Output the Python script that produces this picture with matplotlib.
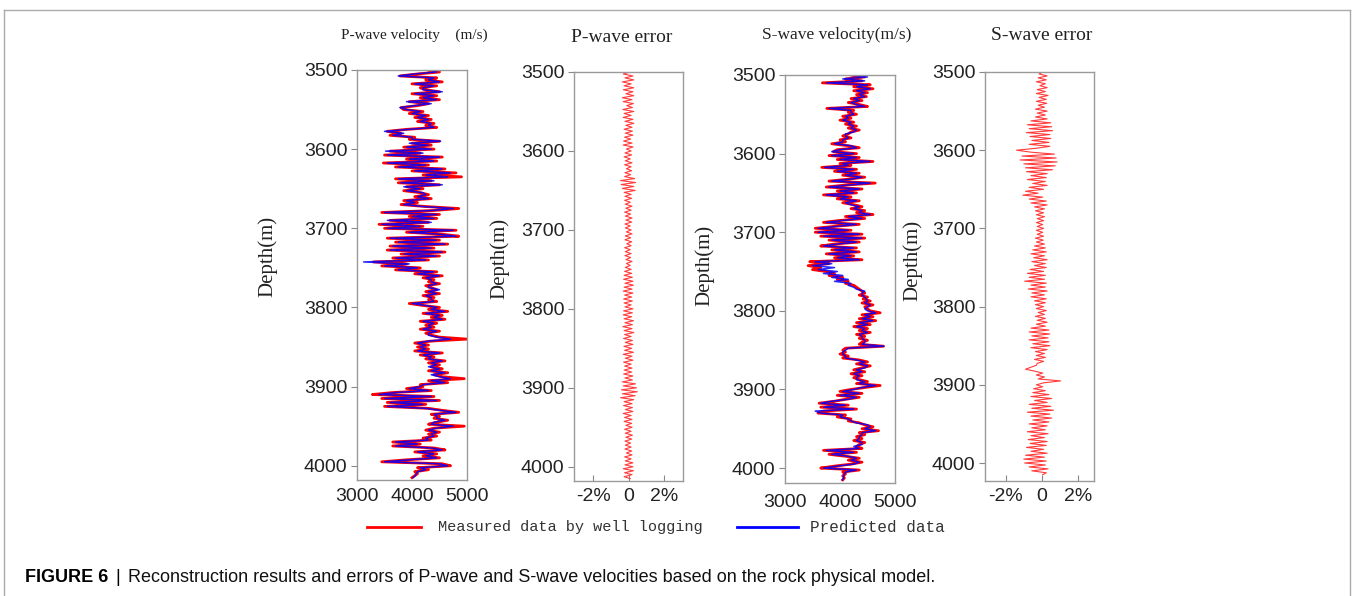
import numpy as np
import matplotlib
matplotlib.use("Agg")
import matplotlib.pyplot as plt
from matplotlib.lines import Line2D

# depth sampling of the logs (m), one value every 2.5 m
depth = np.arange(3500, 4015.1, 2.5)

# P-wave velocity (m/s), measured by well logging
vp_measured = [
    4300, 4500, 4100, 3780, 4450, 4250, 4550, 4000, 4450, 4150,
    4250, 4500, 4000, 4450, 4150, 4500, 3950, 4300, 4100, 3800,
    3850, 4200, 3950, 4300, 4050, 4350, 4100, 4400, 4250, 4450,
    3900, 3550, 3800, 3600, 4050, 3950, 4500, 4000, 4350, 3850,
    4400, 3600, 4150, 3500, 4550, 3900, 4450, 3480, 4300, 3700,
    4600, 4000, 4800, 4200, 4900, 3700, 4350, 3750, 4500, 3900,
    4200, 3850, 4150, 4300, 4050, 4350, 3850, 4100, 3800, 4250,
    4850, 4400, 3450, 4500, 3950, 4450, 3600, 4300, 3400, 4200,
    3500, 4800, 3900, 4550, 4850, 3550, 4500, 3700, 4650, 3600,
    4400, 3550, 4600, 3800, 4500, 3650, 4300, 3300, 3900, 3450,
    4150, 3700, 4450, 4050, 4550, 4200, 4400, 4300, 4500, 4250,
    4350, 4450, 4250, 4500, 4200, 4400, 4300, 4450, 3950, 4200,
    4500, 4300, 4650, 4200, 4550, 4350, 4600, 4150, 4450, 4250,
    4400, 4150, 4500, 4250, 4350, 4500, 5000, 4350, 4050, 4300,
    4100, 4300, 4050, 4550, 4150, 4400, 4250, 4600, 4300, 4500,
    4350, 4550, 4300, 4650, 4400, 4550, 4950, 4300, 4650, 4150,
    4200, 3900, 4350, 3650, 3280, 4400, 3450, 4500, 3550, 4250,
    3500, 4300, 4550, 4850, 4350, 4500, 4400, 4650, 4450, 4300,
    4950, 4400, 4250, 4500, 4300, 4450, 4200, 4350, 3650, 4150,
    3650, 4400, 4600, 4050, 4450, 4200, 4500, 3900, 3450, 4550,
    4700, 4100, 4300, 4050, 4100, 4050, 4000,
]

# P-wave velocity (m/s), predicted
vp_predicted = [
    4350, 4450, 4050, 3750, 4400, 4300, 4500, 4050, 4400, 4200,
    4200, 4550, 4050, 4400, 4200, 4450, 3900, 4350, 4050, 3780,
    3900, 4150, 4000, 4250, 4100, 4300, 4150, 4350, 4300, 4400,
    3950, 3500, 3850, 3650, 4000, 4000, 4520, 3950, 4300, 3900,
    4350, 3520, 4200, 3550, 4500, 3950, 4400, 3550, 4250, 3750,
    4550, 4050, 4700, 4250, 4650, 3750, 4400, 3800, 4550, 3850,
    4150, 3900, 4200, 4250, 4100, 4300, 3900, 4050, 3850, 4200,
    4750, 4350, 3500, 4450, 4000, 4400, 3550, 4350, 3450, 4150,
    3550, 4750, 3950, 4500, 4800, 3600, 4450, 3750, 4600, 3650,
    4350, 3600, 4550, 3850, 4450, 3700, 4250, 3120, 3950, 3500,
    4100, 3750, 4400, 4100, 4500, 4250, 4350, 4350, 4450, 4300,
    4300, 4500, 4300, 4450, 4250, 4350, 4350, 4400, 4000, 4250,
    4450, 4350, 4600, 4250, 4500, 4400, 4550, 4200, 4400, 4300,
    4350, 4200, 4450, 4300, 4300, 4450, 4700, 4300, 4100, 4250,
    4150, 4250, 4100, 4500, 4200, 4350, 4300, 4550, 4350, 4450,
    4300, 4500, 4350, 4600, 4350, 4500, 4700, 4350, 4600, 4200,
    4150, 3950, 4300, 3700, 3400, 4350, 3500, 4450, 3600, 4200,
    3550, 4250, 4500, 4800, 4400, 4450, 4450, 4600, 4400, 4350,
    4750, 4450, 4300, 4450, 4350, 4400, 4250, 4300, 3700, 4100,
    3700, 4350, 4550, 4100, 4400, 4250, 4450, 3950, 3500, 4500,
    4650, 4150, 4250, 4100, 4080, 4060, 4020,
]

# P-wave relative error (%)
vp_error = [
    0.10, -0.30, 0.25, -0.20, 0.30, -0.35, 0.15, -0.25, 0.30, -0.30,
    0.25, -0.15, 0.30, -0.35, 0.20, -0.30, 0.28, -0.10, 0.22, -0.32,
    0.30, -0.25, 0.15, -0.30, 0.25, -0.20, 0.30, -0.15, 0.20, -0.25,
    0.22, -0.18, 0.25, -0.22, 0.12, -0.28, 0.20, -0.30, 0.26, -0.12,
    0.15, -0.20, 0.18, -0.25, 0.10, -0.18, 0.20, -0.22, 0.15, -0.12,
    0.18, -0.20, 0.12, -0.22, 0.35, -0.45, 0.40, -0.42, 0.30, -0.35,
    0.38, -0.25, 0.15, -0.20, 0.18, -0.22, 0.10, -0.18, 0.20, -0.15,
    0.15, -0.22, 0.12, -0.18, 0.20, -0.15, 0.18, -0.20, 0.10, -0.18,
    0.15, -0.12, 0.20, -0.18, 0.12, -0.20, 0.18, -0.10, 0.15, -0.22,
    0.10, -0.18, 0.15, -0.20, 0.12, -0.15, 0.20, -0.12, 0.10, -0.18,
    0.15, -0.22, 0.18, -0.25, 0.22, -0.28, 0.25, -0.20, 0.28, -0.25,
    0.20, -0.30, 0.25, -0.22, 0.18, -0.28, 0.22, -0.25, 0.15, -0.20,
    0.25, -0.28, 0.22, -0.30, 0.18, -0.25, 0.28, -0.20, 0.22, -0.32,
    0.20, -0.25, 0.30, -0.22, 0.15, -0.28, 0.22, -0.18, 0.25, -0.26,
    0.18, -0.22, 0.28, -0.30, 0.20, -0.18, 0.25, -0.28, 0.15, -0.22,
    0.20, -0.25, 0.18, -0.28, 0.25, -0.20, 0.22, -0.35, 0.40, -0.30,
    0.45, -0.40, 0.50, -0.35, 0.38, -0.45, 0.30, -0.25, 0.20, -0.28,
    0.22, -0.18, 0.25, -0.30, 0.15, -0.22, 0.20, -0.25, 0.18, -0.15,
    0.20, -0.22, 0.15, -0.18, 0.22, -0.15, 0.18, -0.20, 0.12, -0.18,
    0.15, -0.20, 0.18, -0.12, 0.20, -0.22, 0.15, -0.18, 0.25, -0.20,
    0.25, -0.30, 0.28, -0.22, 0.20, -0.25, 0.10,
]

# S-wave velocity (m/s), measured by well logging
vs_measured = [
    4200, 4450, 4100, 4400, 3680, 4550, 4250, 4600, 4250, 4500,
    4300, 4480, 4200, 4400, 4150, 4350, 4500, 3760, 4250, 4150,
    4300, 4050, 4200, 4000, 4250, 4100, 4300, 4150, 4350, 4200,
    4150, 4050, 4200, 4000, 4100, 3850, 4150, 4350, 3950, 3880,
    4300, 3800, 4350, 3950, 4600, 4000, 4200, 3670, 4300, 3900,
    4350, 4050, 4450, 4150, 3800, 4640, 4100, 3750, 4400, 3950,
    4300, 3700, 4200, 3950, 4350, 4050, 4250, 4400, 4200, 4450,
    4300, 4600, 4100, 4450, 4000, 3700, 4350, 3900, 3550, 4200,
    3550, 4400, 3650, 4450, 3800, 4350, 3900, 3650, 4300, 3850,
    4350, 3750, 4250, 3900, 4400, 3450, 3800, 3420, 3650, 3500,
    3750, 3900, 3800, 4050, 3950, 4150, 4100, 4250, 4300, 4350,
    4400, 4450, 4350, 4500, 4420, 4550, 4400, 4600, 4450, 4500,
    4550, 4730, 4400, 4600, 4350, 4650, 4300, 4550, 4250, 4500,
    4350, 4550, 4300, 4450, 4350, 4500, 4400, 4350, 4790, 4100,
    4050, 4100, 4000, 4150, 4050, 4350, 4500, 4300, 4550, 4400,
    4250, 4450, 4200, 4400, 4250, 4350, 4500, 4300, 4730, 4450,
    4200, 4000, 4400, 3950, 4350, 4100, 3900, 3620, 4150, 3650,
    4300, 3700, 3600, 4100, 3950, 4200, 4150, 4350, 4450, 4600,
    4400, 4700, 4350, 4450, 4300, 4400, 4250, 4450, 4350, 4300,
    4400, 3700, 4300, 3800, 4100, 4350, 4150, 4400, 4200, 3900,
    3650, 4350, 4050, 4100, 4050, 4080, 4050,
]

# S-wave velocity (m/s), predicted
vs_predicted = [
    4150, 4500, 4050, 4450, 3750, 4500, 4300, 4550, 4300, 4450,
    4350, 4450, 4250, 4350, 4200, 4300, 4450, 3800, 4200, 4200,
    4250, 4100, 4150, 4050, 4200, 4150, 4250, 4200, 4300, 4250,
    4100, 4100, 4150, 4050, 4050, 3900, 4200, 4300, 4000, 3850,
    4250, 3850, 4300, 4000, 4550, 4050, 4150, 3720, 4250, 3950,
    4300, 4100, 4400, 4200, 3850, 4550, 4150, 3800, 4350, 4000,
    4250, 3750, 4150, 4000, 4300, 4100, 4200, 4350, 4250, 4400,
    4350, 4550, 4150, 4400, 4050, 3750, 4300, 3950, 3600, 4150,
    3600, 4350, 3700, 4400, 3850, 4300, 3950, 3700, 4250, 3900,
    4300, 3800, 4200, 3950, 4350, 3550, 3850, 3500, 3900, 3600,
    3950, 3700, 4050, 3850, 4150, 3900, 4200, 4150, 4250, 4300,
    4450, 4400, 4400, 4450, 4480, 4500, 4450, 4550, 4500, 4450,
    4500, 4650, 4450, 4550, 4400, 4600, 4350, 4500, 4300, 4450,
    4400, 4500, 4350, 4400, 4400, 4450, 4450, 4400, 4800, 4150,
    4100, 4050, 4050, 4100, 4100, 4300, 4450, 4350, 4500, 4450,
    4300, 4400, 4250, 4350, 4300, 4300, 4450, 4350, 4650, 4400,
    4250, 4050, 4350, 4000, 4300, 4150, 3850, 3650, 4100, 3700,
    4250, 3550, 3650, 4050, 4000, 4150, 4200, 4300, 4500, 4550,
    4450, 4650, 4400, 4400, 4350, 4350, 4300, 4400, 4400, 4250,
    4350, 3750, 4250, 3850, 4150, 4300, 4200, 4350, 4250, 3950,
    3700, 4300, 4100, 4080, 4060, 4070, 4040,
]

# S-wave relative error (%)
vs_error = [
    0.05, -0.15, 0.30, -0.20, 0.25, -0.30, 0.20, -0.10, 0.30, -0.25,
    0.20, -0.30, 0.35, -0.15, 0.25, -0.30, 0.28, -0.20, 0.15, -0.35,
    0.30, -0.25, 0.20, -0.35, 0.30, -0.60, 0.50, -0.80, 0.55, -0.70,
    0.60, -0.85, 0.45, -0.65, 0.50, -0.55, 0.40, -0.70, 0.45, -0.30,
    -1.40, -0.60, 0.70, -1.10, 0.80, -1.20, 0.85, -1.00, 0.75, -0.90,
    0.60, -0.85, 0.30, -0.60, 0.25, -0.80, 0.20, -0.50, 0.30, -0.70,
    0.10, -0.90, -0.20, -1.05, 0.05, -0.70, 0.25, -0.60, 0.30, -0.40,
    0.15, -0.35, 0.10, -0.30, 0.15, -0.25, 0.10, -0.30, 0.05, -0.25,
    0.10, -0.30, 0.05, -0.25, 0.10, -0.35, 0.08, -0.30, 0.15, -0.40,
    0.20, -0.50, 0.25, -0.60, 0.15, -0.45, 0.30, -0.55, 0.20, -0.40,
    0.25, -0.65, 0.10, -0.80, 0.20, -0.70, 0.15, -0.95, 0.25, -0.60,
    0.20, -0.75, 0.30, -0.55, 0.15, -0.60, 0.25, -0.40, 0.20, -0.35,
    0.10, -0.30, 0.25, -0.20, 0.15, -0.35, 0.20, -0.25, 0.30, -0.30,
    0.20, -0.60, 0.40, -0.70, 0.45, -0.55, 0.35, -0.70, 0.40, -0.50,
    0.45, -0.60, 0.30, -0.35, 0.15, -0.30, 0.20, -0.40, 0.10, -0.25,
    -0.30, -0.60, -0.90, -0.40, 0.05, -0.30, 0.15, -0.20, 1.05, 0.10,
    -0.30, 0.05, -0.45, 0.20, -0.50, 0.40, -0.60, 0.55, -0.40, 0.30,
    -0.70, 0.50, -0.55, 0.65, -0.80, 0.45, -0.60, 0.55, -0.50, 0.40,
    -0.70, 0.30, -0.55, 0.20, -0.80, 0.35, -0.60, 0.15, -0.75, 0.30,
    -0.65, 0.25, -0.85, 0.10, -0.60, 0.30, -0.90, 0.15, -1.00, 0.25,
    -0.95, 0.20, -0.70, 0.35, -0.55, 0.25, 0.05,
]

depth_ticks = [3500, 3600, 3700, 3800, 3900, 4000]
vel_ticks = [3000, 4000, 5000]
err_ticks = [-2, 0, 2]
err_ticklabels = ["-2%", "0", "2%"]

W, H = 1355, 596
fig = plt.figure(figsize=(W / 100, H / 100), dpi=100)

SANS = "Liberation Sans"
SERIF = "Liberation Serif"
RED = "#ff0000"
BLUE = "#0000ff"
ERR_RED = "#ff3b3b"


def px_axes(left, top, right, bottom):
    return fig.add_axes([left / W, 1 - bottom / H, (right - left) / W, (bottom - top) / H])


def style_axes(ax, ymax, label_x, label_y):
    ax.set_ylim(ymax, 3500)
    ax.set_yticks(depth_ticks)
    for s in ax.spines.values():
        s.set_color("#9a9a9a")
        s.set_linewidth(1.0)
    ax.tick_params(axis="y", direction="out", length=4, width=0.8, color="#888",
                   pad=3, labelsize=14, labelcolor="#222")
    ax.tick_params(axis="x", labelsize=14, labelcolor="#222")
    for t in ax.get_xticklabels() + ax.get_yticklabels():
        t.set_fontfamily(SANS)
    ax.set_ylabel("Depth(m)", fontsize=15, family=SERIF, color="#222")
    ax.yaxis.set_label_coords(label_x, label_y)


# P-wave velocity
ax1 = px_axes(357, 70, 467, 480)
ax1.plot(vp_measured, depth, color=RED, lw=2.0)
ax1.plot(vp_predicted, depth, color=BLUE, lw=1.1, alpha=0.85)
ax1.set_xlim(3000, 5000)
ax1.set_xticks(vel_ticks)
style_axes(ax1, 4018, -0.72, 0.546)
ax1.tick_params(axis="x", length=0, pad=6)

# P-wave error
ax2 = px_axes(574, 72, 683, 481)
ax2.plot(vp_error, depth, color=ERR_RED, lw=0.8)
ax2.set_xlim(-3.1, 3.1)
ax2.set_xticks(err_ticks)
ax2.set_xticklabels(err_ticklabels)
style_axes(ax2, 4018, -0.59, 0.545)
ax2.tick_params(axis="x", direction="in", length=4, color="#888", pad=5)

# S-wave velocity
ax3 = px_axes(785, 75, 895, 483)
ax3.plot(vs_measured, depth, color=RED, lw=2.0)
ax3.plot(vs_predicted, depth, color=BLUE, lw=1.1, alpha=0.85)
ax3.set_xlim(3000, 5000)
ax3.set_xticks(vel_ticks)
style_axes(ax3, 4019, -0.645, 0.534)
ax3.tick_params(axis="x", length=0, pad=8)

# S-wave error
ax4 = px_axes(985, 72, 1094, 481)
ax4.plot(vs_error, depth, color=ERR_RED, lw=0.8)
ax4.set_xlim(-3.15, 2.9)
ax4.set_xticks(err_ticks)
ax4.set_xticklabels(err_ticklabels)
style_axes(ax4, 4023, -0.57, 0.54)
ax4.tick_params(axis="x", direction="in", length=4, color="#888", pad=5)

# panel titles
fig.text(414 / W, 1 - 35 / H, "P-wave velocity    (m/s)", family=SERIF, fontsize=11,
         ha="center", va="center", color="#222")
fig.text(622 / W, 1 - 37 / H, "P-wave error", family=SERIF, fontsize=14,
         ha="center", va="center", color="#222")
fig.text(837 / W, 1 - 35 / H, "S-wave velocity(m/s)", family=SERIF, fontsize=12.5,
         ha="center", va="center", color="#222")
fig.text(1042 / W, 1 - 36 / H, "S-wave error", family=SERIF, fontsize=14,
         ha="center", va="center", color="#222")

# legend
ly = 1 - 527 / H
fig.add_artist(Line2D([367 / W, 421 / W], [ly, ly], color=RED, lw=2.0, transform=fig.transFigure))
fig.text(438 / W, ly, "Measured data by well logging", family="Liberation Mono",
         fontsize=11, va="center", color="#333")
fig.add_artist(Line2D([737 / W, 798 / W], [ly, ly], color=BLUE, lw=2.0, transform=fig.transFigure))
fig.text(810 / W, ly, "Predicted data", family="Liberation Mono",
         fontsize=11.5, va="center", color="#333")

# caption
cy = 1 - 578 / H
fig.text(25 / W, cy, "FIGURE 6", family=SANS, fontsize=13, weight="bold",
         va="center", color="#000")
fig.text(115 / W, cy, "|", family=SANS, fontsize=13, va="center", color="#000")
fig.text(128 / W, cy, "Reconstruction results and errors of P-wave and S-wave velocities "
         "based on the rock physical model.", family=SANS, fontsize=13,
         va="center", color="#111")

# frame around the figure
for xs, ys in [([4, 1350], [10, 10]), ([4, 4], [10, 596]), ([1350, 1350], [10, 596])]:
    fig.add_artist(Line2D([x / W for x in xs], [1 - y / H for y in ys],
                          color="#aaaaaa", lw=1.0, transform=fig.transFigure))

fig.savefig("out.png", dpi=100)
